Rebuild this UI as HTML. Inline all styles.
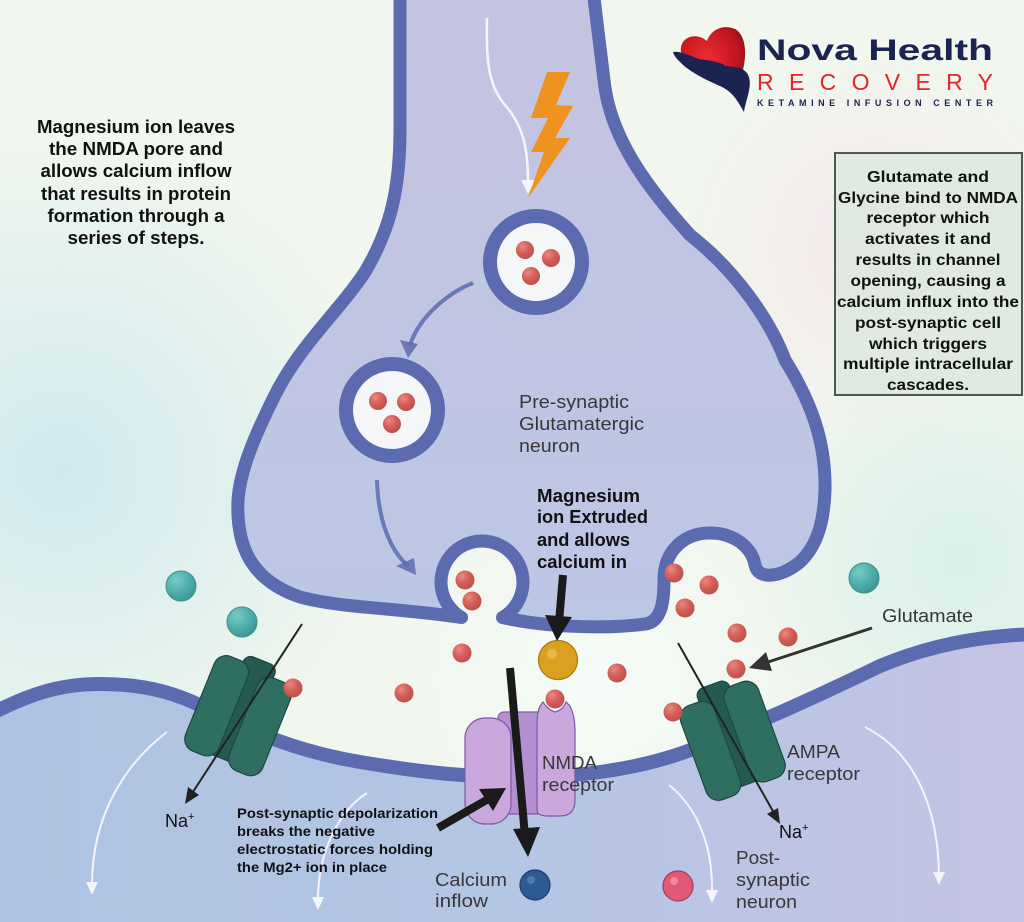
<!DOCTYPE html>
<html><head><meta charset="utf-8"><style>
html,body{margin:0;padding:0;width:1024px;height:922px;overflow:hidden;background:#f1f6ee}
svg{display:block}
</style></head><body>
<svg width="1024" height="922" viewBox="0 0 1024 922" xmlns="http://www.w3.org/2000/svg" font-family="'Liberation Sans', Arial, sans-serif">
<defs>
<radialGradient id="blobL" cx="60" cy="470" r="330" gradientUnits="userSpaceOnUse"><stop offset="0" stop-color="#cfeaef"/><stop offset="1" stop-color="#cfeaef" stop-opacity="0"/></radialGradient>
<radialGradient id="blobR" cx="960" cy="560" r="220" gradientUnits="userSpaceOnUse"><stop offset="0" stop-color="#d8f0ea"/><stop offset="1" stop-color="#d8f0ea" stop-opacity="0"/></radialGradient>
<radialGradient id="blobP" cx="880" cy="250" r="200" gradientUnits="userSpaceOnUse"><stop offset="0" stop-color="#f6e8ec"/><stop offset="1" stop-color="#f6e8ec" stop-opacity="0"/></radialGradient>
<radialGradient id="blobC" cx="600" cy="680" r="200" gradientUnits="userSpaceOnUse"><stop offset="0" stop-color="#f4fbf6"/><stop offset="1" stop-color="#f4fbf6" stop-opacity="0"/></radialGradient>
<linearGradient id="pre" x1="0" y1="0" x2="0" y2="1"><stop offset="0" stop-color="#c4c4e0"/><stop offset="1" stop-color="#bcc6e5"/></linearGradient>
<linearGradient id="post" x1="0" y1="0" x2="1" y2="0"><stop offset="0" stop-color="#aec3e1"/><stop offset="0.5" stop-color="#b5c5e4"/><stop offset="1" stop-color="#c5c3e4"/></linearGradient>
<radialGradient id="heart" cx="0.4" cy="0.45" r="0.7"><stop offset="0" stop-color="#ee2a34"/><stop offset="0.7" stop-color="#c0161f"/><stop offset="1" stop-color="#7d0f16"/></radialGradient>
<radialGradient id="red" cx="0.35" cy="0.3" r="0.8"><stop offset="0" stop-color="#ea8a84"/><stop offset="0.45" stop-color="#d65f59"/><stop offset="1" stop-color="#b84c47"/></radialGradient>
<radialGradient id="teal" cx="0.35" cy="0.3" r="0.8"><stop offset="0" stop-color="#7cc9c6"/><stop offset="0.5" stop-color="#4fb0ae"/><stop offset="1" stop-color="#3a918f"/></radialGradient>
</defs>

<!-- background -->
<rect width="1024" height="922" fill="#f1f6ee"/>
<rect width="1024" height="922" fill="url(#blobL)"/>
<rect width="1024" height="922" fill="url(#blobR)"/>
<rect width="1024" height="922" fill="url(#blobP)"/>
<rect width="1024" height="922" fill="url(#blobC)"/>

<!-- presynaptic neuron -->
<path d="M 400 -10 L 400 130 C 400 190, 390 230, 365 272 C 340 310, 300 345, 275 395 C 255 435, 240 470, 238 500 C 236 545, 250 580, 300 597 C 340 608, 400 608, 461.5 617.5 A 41 41 0 1 1 502.5 617.5 C 540 626, 600 630, 645 624 C 662 622, 664 600, 664 580 C 664 550, 685 533, 710 533 C 735 533, 752 548, 755 565 C 758 580, 780 578, 800 562 C 818 545, 824 520, 825 490 C 826 440, 810 400, 785 360 C 770 320, 735 270, 690 235 C 650 190, 610 140, 604 80 L 593 -10 Z" fill="url(#pre)" stroke="#5c6bb0" stroke-width="13" stroke-linejoin="round"/>

<!-- vesicles -->
<circle cx="536" cy="262" r="46" fill="#f5f6f8" stroke="#5c6bb0" stroke-width="14"/>
<circle cx="392" cy="410" r="46" fill="#f5f6f8" stroke="#5c6bb0" stroke-width="14"/>

<!-- presyn arrows -->
<path d="M 473 283 C 450 292, 420 315, 410 345" fill="none" stroke="#5c6bb0" stroke-width="4" opacity="0.85"/>
<polygon points="400,340 418,344 408,358" fill="#5c6bb0" opacity="0.85"/>
<path d="M 377 480 C 378 520, 390 550, 408 566" fill="none" stroke="#5c6bb0" stroke-width="4" opacity="0.85"/>
<polygon points="396,566 414,558 416,575" fill="#5c6bb0" opacity="0.85"/>

<!-- white axon arrow -->
<path d="M 487 18 C 486 60, 488 85, 505 105 C 522 125, 528 145, 528 182" fill="none" stroke="#f6f6fa" stroke-width="2.5"/>
<polygon points="521,180 535,180 528,194" fill="#f6f6fa"/>

<!-- lightning -->
<polygon points="547,72 570,72 556,105 573,106 555,138 570,138 528,198 544,152 531,152 548,118 531,118" fill="#ee931f"/>

<!-- postsynaptic -->
<path d="M -10 714 C 20 700, 50 684, 100 684 C 150 684, 180 695, 210 710 C 250 732, 300 752, 360 762 C 420 772, 480 780, 560 776 C 620 772, 670 760, 710 742 C 760 722, 820 695, 880 666 C 930 645, 980 636, 1034 634 L 1034 940 L -10 940 Z" fill="url(#post)" stroke="#5c6bb0" stroke-width="14"/>

<!-- white curved arrows -->
<g fill="none" stroke="#f4f4fa" stroke-width="2">
<path d="M 167 732 C 130 760, 92 810, 92 885"/>
<path d="M 367 793 C 340 810, 318 850, 318 900"/>
<path d="M 669 785 C 700 810, 713 850, 712 893"/>
<path d="M 865 727 C 910 750, 938 800, 939 875"/>
</g>
<g fill="#f4f4fa">
<polygon points="86,882 98,882 92,895"/>
<polygon points="312,897 324,897 318,910"/>
<polygon points="706,890 718,890 712,903"/>
<polygon points="933,872 945,872 939,885"/>
</g>

<!-- left AMPA -->
<g transform="translate(240,712) rotate(22)" stroke="#1d4840" stroke-width="1.2">
<rect x="-16" y="-56" width="34" height="106" rx="8" fill="#245a4f"/>
<rect x="-42" y="-48" width="36" height="102" rx="13" fill="#2f6f62"/>
<rect x="6" y="-44" width="36" height="100" rx="13" fill="#2f6f62"/>
</g>
<!-- right AMPA -->
<g transform="translate(731,737) rotate(-20) scale(-1,1)" stroke="#1d4840" stroke-width="1.2">
<rect x="-16" y="-56" width="34" height="106" rx="8" fill="#245a4f"/>
<rect x="-42" y="-48" width="36" height="102" rx="13" fill="#2f6f62"/>
<rect x="6" y="-44" width="36" height="100" rx="13" fill="#2f6f62"/>
</g>

<!-- NMDA -->
<g stroke="#7a5aa8" stroke-width="1.2">
<rect x="498" y="712" width="46" height="102" rx="6" fill="#b58fd0"/>
<rect x="465" y="718" width="46" height="106" rx="20" fill="#caa8de"/>
<path d="M 537 810 L 537 726 Q 537 712 540 706 L 543 702 Q 548 710 555 712 Q 563 710 566 702 L 570 706 Q 575 716 575 730 L 575 800 Q 575 816 560 816 L 548 816 Q 537 816 537 810 Z" fill="#caa8de"/>
</g>

<!-- red dots -->
<g fill="url(#red)">
<circle cx="525" cy="250" r="9"/><circle cx="551" cy="258" r="9"/><circle cx="531" cy="276" r="9"/>
<circle cx="378" cy="401" r="9"/><circle cx="406" cy="402" r="9"/><circle cx="392" cy="424" r="9"/>
<circle cx="465" cy="580" r="9.5"/><circle cx="472" cy="601" r="9.5"/>
<circle cx="674" cy="573" r="9.5"/><circle cx="709" cy="585" r="9.5"/><circle cx="685" cy="608" r="9.5"/>
<circle cx="737" cy="633" r="9.5"/><circle cx="788" cy="637" r="9.5"/><circle cx="736" cy="669" r="9.5"/>
<circle cx="673" cy="712" r="9.5"/><circle cx="617" cy="673" r="9.5"/><circle cx="555" cy="699" r="9.5"/>
<circle cx="462" cy="653" r="9.5"/><circle cx="404" cy="693" r="9.5"/><circle cx="293" cy="688" r="9.5"/>
</g>
<!-- teal dots -->
<g fill="url(#teal)" stroke="#3a8f8f" stroke-width="1">
<circle cx="181" cy="586" r="15"/><circle cx="242" cy="622" r="15"/><circle cx="864" cy="578" r="15"/>
</g>
<!-- Mg, Ca, pink -->
<circle cx="558" cy="660" r="19.5" fill="#dca020" stroke="#a87a10" stroke-width="1.2"/>
<circle cx="552" cy="654" r="5" fill="#ecc25a" opacity="0.7"/>
<circle cx="535" cy="885" r="15" fill="#2b5a94" stroke="#1e3f6e" stroke-width="1.2"/>
<circle cx="531" cy="880" r="4" fill="#5f86b8" opacity="0.7"/>
<circle cx="678" cy="886" r="15" fill="#e05a78" stroke="#a83a5a" stroke-width="1.2"/>
<circle cx="674" cy="881" r="4" fill="#f0a0b0" opacity="0.7"/>

<!-- black arrows -->
<line x1="510" y1="668" x2="525" y2="836" stroke="#1a1a1a" stroke-width="8"/>
<polygon points="513,829 540,827 528,857" fill="#1a1a1a"/>
<line x1="563" y1="575" x2="559" y2="622" stroke="#1a1a1a" stroke-width="8"/>
<polygon points="545,615 572,617 557,641" fill="#1a1a1a"/>
<line x1="438" y1="828" x2="490" y2="798" stroke="#1a1a1a" stroke-width="8"/>
<polygon points="493,811 479,789 506,788" fill="#1a1a1a"/>
<line x1="872" y1="628" x2="765" y2="663" stroke="#333" stroke-width="3"/>
<polygon points="772,671 766,652 749,668" fill="#333"/>
<line x1="302" y1="624" x2="191" y2="795" stroke="#222" stroke-width="2"/>
<polygon points="199,795 188,787 185,804" fill="#222"/>
<line x1="678" y1="643" x2="774" y2="813" stroke="#222" stroke-width="2"/>
<polygon points="778,808 767,814 780,824" fill="#222"/>

<!-- texts -->
<g font-weight="bold" font-size="18" fill="#111" text-anchor="middle">
<text x="136" y="133" textLength="198" lengthAdjust="spacingAndGlyphs">Magnesium ion leaves</text>
<text x="136" y="155" textLength="174" lengthAdjust="spacingAndGlyphs">the NMDA pore and</text>
<text x="136" y="177" textLength="191" lengthAdjust="spacingAndGlyphs">allows calcium inflow</text>
<text x="136" y="200" textLength="190" lengthAdjust="spacingAndGlyphs">that results in protein</text>
<text x="136" y="222" textLength="177" lengthAdjust="spacingAndGlyphs">formation through a</text>
<text x="136" y="244" textLength="137" lengthAdjust="spacingAndGlyphs">series of steps.</text>
</g>

<rect x="835" y="153" width="187" height="242" fill="#dbe7de" fill-opacity="0.8" stroke="#4a584d" stroke-width="2"/>
<g font-weight="bold" font-size="16" fill="#111" text-anchor="middle">
<text x="928" y="182" textLength="122" lengthAdjust="spacingAndGlyphs">Glutamate and</text>
<text x="928" y="203" textLength="180" lengthAdjust="spacingAndGlyphs">Glycine bind to NMDA</text>
<text x="928" y="223" textLength="123" lengthAdjust="spacingAndGlyphs">receptor which</text>
<text x="928" y="244" textLength="126" lengthAdjust="spacingAndGlyphs">activates it and</text>
<text x="928" y="265" textLength="145" lengthAdjust="spacingAndGlyphs">results in channel</text>
<text x="928" y="286" textLength="155" lengthAdjust="spacingAndGlyphs">opening, causing a</text>
<text x="928" y="307" textLength="182" lengthAdjust="spacingAndGlyphs">calcium influx into the</text>
<text x="928" y="328" textLength="146" lengthAdjust="spacingAndGlyphs">post-synaptic cell</text>
<text x="928" y="349" textLength="118" lengthAdjust="spacingAndGlyphs">which triggers</text>
<text x="928" y="369" textLength="170" lengthAdjust="spacingAndGlyphs">multiple intracellular</text>
<text x="928" y="390" textLength="82" lengthAdjust="spacingAndGlyphs">cascades.</text>
</g>

<g font-size="18" fill="#383838">
<text x="519" y="408" textLength="110" lengthAdjust="spacingAndGlyphs">Pre-synaptic</text>
<text x="519" y="430" textLength="125" lengthAdjust="spacingAndGlyphs">Glutamatergic</text>
<text x="519" y="452" textLength="61" lengthAdjust="spacingAndGlyphs">neuron</text>
<text x="882" y="622" textLength="91" lengthAdjust="spacingAndGlyphs">Glutamate</text>
<text x="787" y="758" textLength="53" lengthAdjust="spacingAndGlyphs">AMPA</text>
<text x="787" y="780" textLength="73" lengthAdjust="spacingAndGlyphs">receptor</text>
<text x="542" y="769" textLength="55" lengthAdjust="spacingAndGlyphs">NMDA</text>
<text x="542" y="791" textLength="72" lengthAdjust="spacingAndGlyphs">receptor</text>
<text x="736" y="864" textLength="44" lengthAdjust="spacingAndGlyphs">Post-</text>
<text x="736" y="886" textLength="74" lengthAdjust="spacingAndGlyphs">synaptic</text>
<text x="736" y="908" textLength="61" lengthAdjust="spacingAndGlyphs">neuron</text>
<text x="435" y="886" textLength="72" lengthAdjust="spacingAndGlyphs">Calcium</text>
<text x="435" y="907" textLength="53" lengthAdjust="spacingAndGlyphs">inflow</text>
</g>
<g font-size="18" fill="#111">
<text x="165" y="827">Na<tspan font-size="11" dy="-7">+</tspan></text>
<text x="779" y="838">Na<tspan font-size="11" dy="-7">+</tspan></text>
</g>

<g font-weight="bold" font-size="18" fill="#111">
<text x="537" y="502" textLength="103" lengthAdjust="spacingAndGlyphs">Magnesium</text>
<text x="537" y="523" textLength="111" lengthAdjust="spacingAndGlyphs">ion Extruded</text>
<text x="537" y="546" textLength="93" lengthAdjust="spacingAndGlyphs">and allows</text>
<text x="537" y="568" textLength="90" lengthAdjust="spacingAndGlyphs">calcium in</text>
</g>

<g font-weight="bold" font-size="14" fill="#111">
<text x="237" y="818" textLength="201" lengthAdjust="spacingAndGlyphs">Post-synaptic depolarization</text>
<text x="237" y="836" textLength="138" lengthAdjust="spacingAndGlyphs">breaks the negative</text>
<text x="237" y="854" textLength="196" lengthAdjust="spacingAndGlyphs">electrostatic  forces holding</text>
<text x="237" y="872" textLength="150" lengthAdjust="spacingAndGlyphs">the Mg2+ ion in place</text>
</g>

<!-- logo -->
<path d="M 735 92 C 716 82, 684 72, 681 52 C 679 38, 695 31, 707 41 C 711 29, 724 24, 735 29 C 749 37, 748 66, 735 92 Z" fill="url(#heart)"/>
<path d="M 673 52 C 682 50, 698 60, 712 64 C 726 68, 740 64, 747 73 C 754 84, 746 98, 744 112 C 737 100, 733 92, 720 86 C 706 80, 690 72, 681 63 C 677 59, 674 56, 673 52 Z" fill="#1b2350"/>
<path d="M 692 62 C 700 60, 714 63, 722 66" fill="none" stroke="#1b2350" stroke-width="4" stroke-linecap="round"/>
<text x="757" y="60" font-size="30" font-weight="bold" fill="#1b2350" textLength="236" lengthAdjust="spacingAndGlyphs">Nova Health</text>
<text x="757" y="90" font-size="23" fill="#e2252b" textLength="236" lengthAdjust="spacing">RECOVERY</text>
<text x="757" y="106" font-size="9" font-weight="bold" fill="#1b2350" textLength="236" lengthAdjust="spacing">KETAMINE INFUSION CENTER</text>
</svg>
</body></html>
